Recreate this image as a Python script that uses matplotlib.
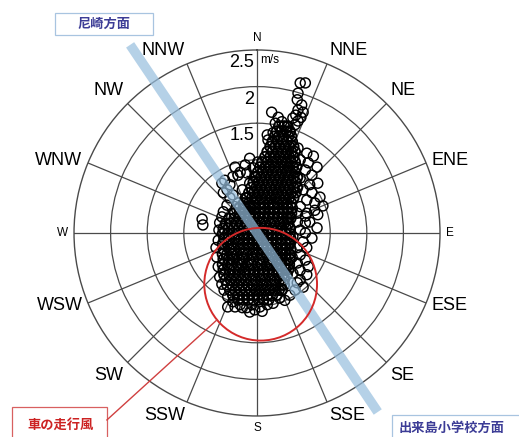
import numpy as np
import matplotlib.pyplot as plt
from matplotlib.patches import Circle, Rectangle
from matplotlib.lines import Line2D

plt.rcParams['font.family'] = ['Liberation Sans', 'DejaVu Sans']
JP = ['Noto Sans CJK JP', 'DejaVu Sans']

# wind vectors in m/s (eastward, northward components)
# dense part of the record, one line per band of northward speed
core_east = [
    0.30, 0.37, 0.42,
    0.27, 0.33, 0.40, 0.45,
    0.24, 0.30, 0.36, 0.43, 0.47,
    0.21, 0.28, 0.35, 0.41, 0.48,
    0.18, 0.25, 0.31, 0.38, 0.44, 0.50,
    0.14, 0.21, 0.28, 0.34, 0.41, 0.47, 0.52,
    0.11, 0.18, 0.24, 0.31, 0.37, 0.44, 0.50,
    0.07, 0.14, 0.21, 0.27, 0.34, 0.40, 0.46, 0.52,
    0.04, 0.11, 0.17, 0.24, 0.30, 0.37, 0.43, 0.49, 0.54,
    0.01, 0.08, 0.14, 0.21, 0.27, 0.34, 0.40, 0.46, 0.52,
    -0.02, 0.05, 0.11, 0.18, 0.24, 0.31, 0.37, 0.43, 0.50, 0.55,
    -0.05, 0.02, 0.08, 0.15, 0.21, 0.28, 0.34, 0.40, 0.47, 0.53,
    -0.08, -0.01, 0.05, 0.12, 0.18, 0.25, 0.31, 0.37, 0.44, 0.50, 0.55,
    -0.11, -0.04, 0.02, 0.09, 0.15, 0.22, 0.28, 0.34, 0.41, 0.47, 0.53,
    -0.14, -0.07, -0.01, 0.06, 0.12, 0.19, 0.25, 0.31, 0.38, 0.44, 0.50,
    -0.18, -0.11, -0.04, 0.03, 0.09, 0.16, 0.22, 0.28, 0.35, 0.41, 0.47,
    -0.24, -0.17, -0.10, -0.03, 0.04, 0.10, 0.17, 0.23, 0.30, 0.36, 0.42, 0.48,
    -0.31, -0.24, -0.17, -0.10, -0.03, 0.03, 0.10, 0.16, 0.23, 0.29, 0.36, 0.42, 0.47,
    -0.38, -0.31, -0.24, -0.17, -0.10, -0.04, 0.03, 0.09, 0.16, 0.22, 0.29, 0.35, 0.41, 0.46,
    -0.43, -0.36, -0.29, -0.22, -0.15, -0.08, -0.02, 0.05, 0.11, 0.18, 0.24, 0.31, 0.37, 0.43,
    -0.46, -0.39, -0.32, -0.25, -0.18, -0.11, -0.05, 0.02, 0.08, 0.15, 0.21, 0.28, 0.34, 0.40, 0.45,
    -0.47, -0.40, -0.33, -0.26, -0.19, -0.12, -0.06, 0.01, 0.07, 0.14, 0.20, 0.27, 0.33, 0.39, 0.45,
    -0.45, -0.39, -0.31, -0.25, -0.18, -0.12, -0.05, 0.02, 0.09, 0.15, 0.21, 0.27, 0.34, 0.41, 0.46,
    -0.47, -0.40, -0.33, -0.26, -0.19, -0.12, -0.06, 0.01, 0.07, 0.14, 0.20, 0.27, 0.33, 0.39, 0.45,
    -0.46, -0.38, -0.32, -0.24, -0.18, -0.11, -0.04, 0.02, 0.08, 0.14, 0.21, 0.28, 0.35, 0.40, 0.46,
    -0.47, -0.41, -0.33, -0.27, -0.19, -0.13, -0.06, 0.00, 0.07, 0.13, 0.20, 0.26, 0.33, 0.39, 0.44,
    -0.46, -0.39, -0.33, -0.25, -0.19, -0.11, -0.05, 0.03, 0.08, 0.16, 0.21, 0.29, 0.34, 0.40, 0.45,
    -0.47, -0.40, -0.34, -0.26, -0.20, -0.12, -0.07, 0.01, 0.06, 0.14, 0.19, 0.27, 0.32, 0.38, 0.44,
    -0.46, -0.38, -0.32, -0.25, -0.17, -0.11, -0.04, 0.02, 0.09, 0.15, 0.22, 0.28, 0.34, 0.39, 0.43,
    -0.45, -0.38, -0.31, -0.24, -0.17, -0.10, -0.04, 0.03, 0.09, 0.16, 0.22, 0.29, 0.35, 0.41,
    -0.43, -0.36, -0.29, -0.22, -0.15, -0.08, -0.02, 0.05, 0.11, 0.18, 0.24, 0.31, 0.37,
    -0.41, -0.34, -0.27, -0.20, -0.13, -0.06, 0.00, 0.07, 0.13, 0.20, 0.26, 0.33, 0.37,
    -0.37, -0.30, -0.23, -0.16, -0.09, -0.02, 0.04, 0.11, 0.17, 0.24, 0.30, 0.34,
    -0.33, -0.26, -0.19, -0.12, -0.05, 0.01, 0.08, 0.14, 0.21, 0.27,
    -0.26, -0.19, -0.12, -0.05, 0.02, 0.09, 0.16,
]
core_north = [
    1.46, 1.46, 1.46,
    1.39, 1.39, 1.39, 1.39,
    1.32, 1.32, 1.32, 1.32, 1.32,
    1.25, 1.25, 1.25, 1.25, 1.25,
    1.18, 1.18, 1.18, 1.18, 1.18, 1.18,
    1.11, 1.11, 1.11, 1.11, 1.11, 1.11, 1.11,
    1.04, 1.04, 1.04, 1.04, 1.04, 1.04, 1.04,
    0.97, 0.97, 0.97, 0.97, 0.97, 0.97, 0.97, 0.97,
    0.90, 0.90, 0.90, 0.90, 0.90, 0.90, 0.90, 0.90, 0.90,
    0.83, 0.83, 0.83, 0.83, 0.83, 0.83, 0.83, 0.83, 0.83,
    0.76, 0.76, 0.76, 0.76, 0.76, 0.76, 0.76, 0.76, 0.76, 0.76,
    0.69, 0.69, 0.69, 0.69, 0.69, 0.69, 0.69, 0.69, 0.69, 0.69,
    0.62, 0.62, 0.62, 0.62, 0.62, 0.62, 0.62, 0.62, 0.62, 0.62, 0.62,
    0.55, 0.55, 0.55, 0.55, 0.55, 0.55, 0.55, 0.55, 0.55, 0.55, 0.55,
    0.48, 0.48, 0.48, 0.48, 0.48, 0.48, 0.48, 0.48, 0.48, 0.48, 0.48,
    0.41, 0.41, 0.41, 0.41, 0.41, 0.41, 0.41, 0.41, 0.41, 0.41, 0.41,
    0.34, 0.34, 0.34, 0.34, 0.34, 0.34, 0.34, 0.34, 0.34, 0.34, 0.34, 0.34,
    0.27, 0.27, 0.27, 0.27, 0.27, 0.27, 0.27, 0.27, 0.27, 0.27, 0.27, 0.27, 0.27,
    0.20, 0.20, 0.20, 0.20, 0.20, 0.20, 0.20, 0.20, 0.20, 0.20, 0.20, 0.20, 0.20, 0.20,
    0.13, 0.13, 0.13, 0.13, 0.13, 0.13, 0.13, 0.13, 0.13, 0.13, 0.13, 0.13, 0.13, 0.13,
    0.06, 0.06, 0.06, 0.06, 0.06, 0.06, 0.06, 0.06, 0.06, 0.06, 0.06, 0.06, 0.06, 0.06, 0.06,
    -0.01, -0.01, -0.01, -0.01, -0.01, -0.01, -0.01, -0.01, -0.01, -0.01, -0.01, -0.01, -0.01, -0.01, -0.01,
    -0.08, -0.08, -0.08, -0.08, -0.08, -0.08, -0.08, -0.08, -0.08, -0.08, -0.08, -0.08, -0.08, -0.08, -0.08,
    -0.15, -0.15, -0.15, -0.15, -0.15, -0.15, -0.15, -0.15, -0.15, -0.15, -0.15, -0.15, -0.15, -0.15, -0.15,
    -0.22, -0.22, -0.22, -0.22, -0.22, -0.22, -0.22, -0.22, -0.22, -0.22, -0.22, -0.22, -0.22, -0.22, -0.22,
    -0.29, -0.29, -0.29, -0.29, -0.29, -0.29, -0.29, -0.29, -0.29, -0.29, -0.29, -0.29, -0.29, -0.29, -0.29,
    -0.36, -0.36, -0.36, -0.36, -0.36, -0.36, -0.36, -0.36, -0.36, -0.36, -0.36, -0.36, -0.36, -0.36, -0.36,
    -0.43, -0.43, -0.43, -0.43, -0.43, -0.43, -0.43, -0.43, -0.43, -0.43, -0.43, -0.43, -0.43, -0.43, -0.43,
    -0.50, -0.50, -0.50, -0.50, -0.50, -0.50, -0.50, -0.50, -0.50, -0.50, -0.50, -0.50, -0.50, -0.50, -0.50,
    -0.57, -0.57, -0.57, -0.57, -0.57, -0.57, -0.57, -0.57, -0.57, -0.57, -0.57, -0.57, -0.57, -0.57,
    -0.64, -0.64, -0.64, -0.64, -0.64, -0.64, -0.64, -0.64, -0.64, -0.64, -0.64, -0.64, -0.64,
    -0.71, -0.71, -0.71, -0.71, -0.71, -0.71, -0.71, -0.71, -0.71, -0.71, -0.71, -0.71, -0.71,
    -0.78, -0.78, -0.78, -0.78, -0.78, -0.78, -0.78, -0.78, -0.78, -0.78, -0.78, -0.78,
    -0.85, -0.85, -0.85, -0.85, -0.85, -0.85, -0.85, -0.85, -0.85, -0.85,
    -0.91, -0.91, -0.91, -0.91, -0.91, -0.91, -0.91,
]

# scattered readings around the dense part
east = [
    0.59, 0.66, 0.56, 0.55, 0.61, 0.56, 0.63, 0.53, 0.60, 0.49, 0.56,
    0.20, 0.29, 0.25, 0.34, 0.41, 0.45, 0.14, 0.22, 0.15, 0.52,
    0.56, 0.68, 0.77, 0.59, 0.70, 0.82, 0.66, 0.75, 0.59, 0.72, 0.83,
    0.63, 0.75, 0.86, 0.68, 0.79, 0.90, 0.59, 0.79, 0.68, 0.72, 0.82,
    0.66, 0.75, 0.55, 0.66, 0.83, 0.45, 0.55, 0.66, 0.45, 0.59, 0.49,
    0.63, 0.45, 0.55, 0.68, 0.59, 0.48, 0.66, 0.55, 0.70, 0.59, 0.49,
    0.68, 0.59, 0.63, 0.52, 0.45, 0.38, 0.55, 0.31,
    -0.10, 0.01, -0.16, -0.30, -0.05, -0.14, -0.23, -0.33, -0.44, -0.37,
    -0.48, -0.26, -0.10, -0.03, -0.41, -0.20, -0.46, -0.33, -0.16, -0.26,
    -0.41, -0.10, -0.37, -0.46, -0.51, -0.48, -0.75, -0.74,
    -0.55, -0.53, -0.51, -0.53, -0.56, -0.52,
    -0.40, -0.33, -0.23, -0.14, -0.03, -0.40, -0.30, -0.20, -0.10, -0.07,
    0.04, 0.14, 0.22, -0.45, -0.48, 0.07,
]
north = [
    2.05, 2.05, 1.91, 1.82, 1.75, 1.68, 1.65, 1.61, 1.58, 1.57, 1.53,
    1.65, 1.58, 1.50, 1.52, 1.45, 1.38, 1.34, 1.37, 1.27, 1.48,
    1.16, 1.09, 1.05, 1.00, 0.96, 0.90, 0.86, 0.79, 0.75, 0.66, 0.68,
    0.59, 0.55, 0.49, 0.45, 0.41, 0.37, 0.36, 0.31, 0.27, 0.15, 0.07,
    0.00, -0.07, 0.27, 0.23, 0.25, 0.23, 0.15, 0.14, 0.07, 0.04, -0.05,
    -0.12, -0.14, -0.20, -0.20, -0.30, -0.33, -0.37, -0.41, -0.46, -0.51, -0.55,
    -0.57, -0.64, -0.74, -0.78, -0.85, -0.92, -0.68, -0.89,
    1.02, 0.97, 0.93, 0.90, 0.89, 0.82, 0.83, 0.77, 0.72, 0.66,
    0.68, 0.79, 0.68, 0.77, 0.59, 0.59, 0.55, 0.52, 0.48, 0.41,
    0.38, 0.38, 0.48, 0.29, 0.14, 0.22, 0.19, 0.11,
    -0.33, -0.46, -0.60, -0.10, -0.20, 0.04,
    -0.87, -0.94, -0.98, -1.02, -1.05, -1.01, -1.01, -1.02, -1.08, -0.98,
    -1.01, -0.98, -0.96, -0.78, -0.70, -1.07,
]

directions = ['N', 'NNE', 'NE', 'ENE', 'E', 'ESE', 'SE', 'SSE',
              'S', 'SSW', 'SW', 'WSW', 'W', 'WNW', 'NW', 'NNW']
ring_speeds = [0.5, 1.0, 1.5, 2.0, 2.5]
ring_labels = ['0.5', '1', '1.5', '2', '2.5']
road_bearing = 326                 # road axis, degrees from north
road_reach = (3.1, 2.95)           # drawn length each side, m/s
gust_centre = (0.05, -0.70)        # east, north of the vehicle-wind circle
gust_radius = 0.77

fig = plt.figure(figsize=(5.19, 4.37), dpi=100)
ax = fig.add_axes([0.1426, 0.0481, 0.7052, 0.8375], projection='polar')
ax.set_theta_zero_location('N')
ax.set_theta_direction(-1)

grid_col = '#4a4a4a'
ax.set_thetagrids(np.arange(0, 360, 22.5), labels=[''] * 16)
ax.set_rgrids(ring_speeds[:-1], labels=[''] * 4)
ax.grid(True, color=grid_col, lw=0.9)
ax.spines['polar'].set_color(grid_col)
ax.spines['polar'].set_linewidth(1.0)
ax.tick_params(length=0, pad=0)

# open circles; the packed cluster gets a slightly heavier stroke so it reads solid
for ue, vn, lw in ((core_east, core_north, 1.35), (east, north, 1.05)):
    ue, vn = np.asarray(ue), np.asarray(vn)
    ax.scatter(np.arctan2(ue, vn), np.hypot(ue, vn), s=52, facecolors='none',
               edgecolors='black', linewidths=lw, zorder=3)

# speed labels just west of the north spoke
for r, lab in zip(ring_speeds, ring_labels):
    ax.annotate(lab, xy=(0, r), xytext=(-2, -3), textcoords='offset points',
                ha='right', va='top', fontsize=13, zorder=2)
ax.annotate('m/s', xy=(0, 2.5), xytext=(2, -3), textcoords='offset points',
            ha='left', va='top', fontsize=8.5, zorder=2)

# compass labels at the spoke ends
for k, name in enumerate(directions):
    a = np.radians(k * 22.5)
    s, c = np.sin(a), np.cos(a)
    ha = 'left' if s > 0.2 else ('right' if s < -0.2 else 'center')
    va = 'bottom' if c > 0.5 else ('top' if c < -0.5 else 'center')
    fs = 8.5 if len(name) == 1 else 13
    ax.text(a, 2.58, name, ha=ha, va=va, fontsize=fs, clip_on=False)

# road axis through the station
rb = np.radians(road_bearing)
ax.plot([rb, rb, rb + np.pi, rb + np.pi], [road_reach[0], 0, 0, road_reach[1]],
        color='#96bede', alpha=0.7, lw=7, solid_capstyle='butt',
        clip_on=False, zorder=4)

# readings attributed to passing vehicles
ax.add_patch(Circle((0.5 + gust_centre[0] / 5, 0.5 + gust_centre[1] / 5),
                    gust_radius / 5, transform=ax.transAxes, fill=False,
                    ec='#d42a2a', lw=1.4, zorder=5))
ax.set_ylim(0, 2.5)

# caption boxes
def caption(x0, y0, w, h, text, tx, ty, col, edge):
    fig.add_artist(Rectangle((x0, y0), w, h, transform=fig.transFigure,
                             fill=True, fc='white', ec=edge, lw=0.9))
    fig.text(tx, ty, text, ha='center', va='center', fontsize=9.5,
             color=col, family=JP, fontweight='bold')

caption(0.106, 0.920, 0.189, 0.050, '尼崎方面', 0.2004, 0.945,
        '#3c3c96', '#a8c4e0')
caption(0.755, -0.02, 0.26, 0.070, '出来島小学校方面', 0.871, 0.022,
        '#3c3c96', '#a8c4e0')
caption(0.023, -0.02, 0.183, 0.089, '車の走行風', 0.116, 0.027,
        '#cc2222', '#d86060')
fig.add_artist(Line2D([0.206, 0.418], [0.039, 0.268], color='#d04040',
                      lw=1.0, transform=fig.transFigure))

fig.savefig('out.png', dpi=100)
